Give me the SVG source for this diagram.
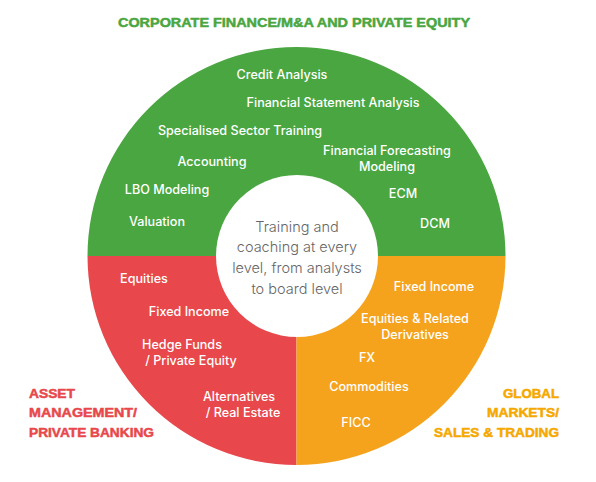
<svg xmlns="http://www.w3.org/2000/svg" width="596" height="482" viewBox="0 0 596 482">
<style>
.w{font-family:Inter,"Noto Sans","Liberation Sans",sans-serif;font-size:12.6px;font-weight:500;fill:#fff;text-anchor:middle}
.c{font-family:Inter,"Noto Sans","Liberation Sans",sans-serif;font-size:14.5px;font-weight:300;fill:#666;text-anchor:middle}
.h{font-family:"Liberation Sans",Arial,sans-serif;font-size:13px;font-weight:bold;stroke-width:0.5px;stroke-linejoin:round}
</style>
<rect width="596" height="482" fill="#fff"/>
<text class="h" x="118" y="27" fill="#4aa640" stroke="#4aa640" textLength="352" lengthAdjust="spacingAndGlyphs">CORPORATE FINANCE/M&amp;A AND PRIVATE EQUITY</text>
<g id="green">
<path d="M87.5 256 A209 209 0 0 1 505.5 256 Z" fill="#4aa640"/>
<text class="w" x="282" y="79">Credit Analysis</text>
<text class="w" x="333" y="107">Financial Statement Analysis</text>
<text class="w" x="240" y="135">Specialised Sector Training</text>
<text class="w" x="212" y="166">Accounting</text>
<text class="w" x="387" y="155">Financial Forecasting</text>
<text class="w" x="387" y="171">Modeling</text>
<text class="w" x="167" y="194">LBO Modeling</text>
<text class="w" x="403" y="198">ECM</text>
<text class="w" x="157" y="226">Valuation</text>
<text class="w" x="435" y="228">DCM</text>
</g>
<g id="red">
<path d="M296.5 256 L87.5 256 A209 209 0 0 0 296.5 465 Z" fill="#e8474b"/>
<text class="w" x="144" y="283">Equities</text>
<text class="w" x="189" y="316">Fixed Income</text>
<text class="w" x="182" y="349">Hedge Funds</text>
<text class="w" x="191" y="365">/ Private Equity</text>
<text class="w" x="239" y="401">Alternatives</text>
<text class="w" x="243" y="417">/ Real Estate</text>
</g>
<g id="orange">
<path d="M296.5 256 L296.5 465 A209 209 0 0 0 505.5 256 Z" fill="#f5a31d"/>
<text class="w" x="434" y="291">Fixed Income</text>
<text class="w" x="415" y="323">Equities &amp; Related</text>
<text class="w" x="415" y="339">Derivatives</text>
<text class="w" x="367" y="362">FX</text>
<text class="w" x="369" y="391">Commodities</text>
<text class="w" x="356" y="427">FICC</text>
</g>
<g id="center">
<circle cx="297" cy="256" r="81" fill="#fff"/>
<text class="c" x="297" y="232">Training and</text>
<text class="c" x="297" y="252">coaching at every</text>
<text class="c" x="297" y="273">level, from analysts</text>
<text class="c" x="297" y="294">to board level</text>
</g>
<g id="asset-label" class="h" fill="#e8474b" stroke="#e8474b">
<text x="29" y="398" textLength="46" lengthAdjust="spacingAndGlyphs">ASSET</text>
<text x="29" y="417" textLength="108" lengthAdjust="spacingAndGlyphs">MANAGEMENT/</text>
<text x="29" y="437" textLength="125" lengthAdjust="spacingAndGlyphs">PRIVATE BANKING</text>
</g>
<g id="global-label" class="h" fill="#f5a800" stroke="#f5a800">
<text x="503" y="398" textLength="56" lengthAdjust="spacingAndGlyphs">GLOBAL</text>
<text x="487" y="417" textLength="72" lengthAdjust="spacingAndGlyphs">MARKETS/</text>
<text x="434" y="437" textLength="125" lengthAdjust="spacingAndGlyphs">SALES &amp; TRADING</text>
</g>
<g id="connectors"/>
</svg>
